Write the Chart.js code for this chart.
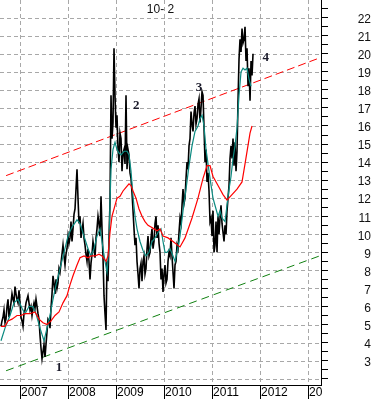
<!DOCTYPE html>
<html lang="en">
<head>
<meta charset="UTF-8">
<title>10- 2</title>
<script src="https://cdn.jsdelivr.net/npm/chart.js"></script>
<style>
  body { margin: 0; background: #fff; }
  .graph { width: 371px; height: 399px; position: relative; }
</style>
</head>
<body>
<div class="graph">
  <canvas id="myChart"></canvas>
</div>
<script>
  // sample grid: one value per step, time in decimal years
  var START = 2006.583;
  var STEP = 1 / 48;

  // 10y - 2y spread (black)
  var spread = [
    4.9, 5.2, 5.4, 5.8, 5.1, 5.3, 6.0, 6.4, 5.4, 5.8,
    6.2, 6.7, 6.4, 6.2, 7.1, 6.7, 6.4, 6.2, 6.9, 6.2,
    5.4, 5.2, 4.9, 5.6, 5.8, 6.2, 6.4, 6.6, 6.2, 5.8,
    6.0, 5.5, 5.9, 6.2, 5.9, 6.4, 6.0, 5.6, 5.3, 4.4,
    3.7, 3.1, 3.5, 3.9, 3.2, 3.9, 4.6, 5.3, 5.2, 4.8,
    5.9, 6.7, 7.7, 7.3, 6.7, 7.5, 7.0, 7.3, 8.1, 7.9,
    8.4, 8.9, 9.4, 8.8, 8.3, 8.9, 9.2, 9.9, 9.5, 9.8,
    10.7, 9.6, 10.3, 11.1, 11.4, 12.5, 13.6, 12.0, 10.6, 11.0,
    9.8, 10.2, 10.6, 9.8, 9.4, 8.9, 8.5, 9.2, 8.5, 7.5,
    8.4, 8.9, 9.6, 9.2, 8.7, 9.8, 10.3, 11.0, 10.6, 9.9,
    12.1, 10.3, 8.7, 6.6, 5.6, 4.7, 8.5, 7.4, 9.8, 11.8,
    17.7, 15.3, 16.2, 20.3, 17.7, 15.9, 16.6, 14.7, 14.0, 15.6,
    15.3, 13.5, 14.5, 14.7, 13.9, 17.7, 13.6, 14.7, 14.4, 13.4,
    13.1, 12.3, 11.3, 10.3, 9.4, 9.8, 8.5, 7.8, 7.0, 8.1,
    8.4, 7.4, 8.5, 8.8, 7.8, 8.1, 9.2, 9.9, 8.8, 9.0,
    9.8, 10.3, 9.2, 9.6, 10.6, 11.0, 9.8, 10.5, 9.5, 9.0,
    7.5, 8.1, 6.8, 7.8, 8.3, 7.3, 7.5, 8.5, 9.0, 8.8,
    9.8, 8.8, 7.9, 7.0, 8.3, 8.5, 9.4, 9.2, 10.1, 10.9,
    10.6, 11.6, 12.5, 11.7, 12.0, 13.1, 14.0, 13.6, 14.9, 15.3,
    16.8, 16.1, 15.7, 16.7, 17.1, 16.1, 16.4, 17.2, 17.5, 16.2,
    17.0, 17.9, 17.7, 15.9, 14.0, 14.7, 12.9, 13.4, 12.4, 10.7,
    10.9, 9.9, 11.3, 9.0, 9.4, 10.7, 9.0, 11.0, 10.0, 10.9,
    11.6, 10.6, 10.1, 9.6, 10.5, 10.0, 11.3, 12.0, 12.7, 14.2,
    14.9, 14.2, 15.3, 13.8, 15.1, 13.5, 14.6, 17.4, 19.7, 20.8,
    20.1, 21.4, 20.6, 20.8, 21.5, 19.6, 20.3, 18.2, 19.2, 17.4,
    19.6, 18.8, 20.0
  ];

  // short moving average (teal): step index + value
  var fastIdx = [1, 5, 10, 14, 18, 22, 25, 29, 33, 36, 40, 44, 47, 50, 53, 56, 60, 64, 68, 72,
    77, 80, 84, 88, 91, 94, 97, 100, 102, 105, 107, 109, 110, 111, 113, 115, 117, 119, 121, 124,
    127, 129, 131, 133, 135, 137, 140, 143, 146, 149, 152, 155, 158, 161, 163, 165, 167, 170, 173, 175,
    177, 180, 183, 186, 189, 192, 195, 198, 200, 202, 204, 206, 208, 210, 213, 216, 218, 220, 222, 225,
    227, 229, 231, 233, 235, 237, 239, 241, 243, 245, 247, 249, 251];
  var fastVals = [4.1, 4.8, 5.5, 6.2, 6.4, 5.9, 5.6, 6.0, 6.0, 5.6, 4.8, 4.1, 4.8, 5.5, 6.4, 7.2, 8.1, 9.0, 9.9, 10.4,
    10.8, 10.6, 9.9, 9.2, 8.8, 9.2, 9.9, 10.3, 9.6, 8.5, 7.9, 9.4, 11.8, 13.6, 14.7, 15.1, 14.7, 14.5, 14.4, 14.6,
    14.6, 14.4, 13.5, 12.1, 11.0, 10.3, 9.6, 9.1, 8.8, 9.0, 9.6, 9.8, 10.1, 10.3, 9.6, 9.0, 9.0, 9.2, 8.8, 8.5,
    9.0, 9.9, 11.3, 12.5, 13.8, 14.9, 15.7, 16.0, 16.4, 16.6, 16.0, 14.7, 13.9, 13.1, 12.0, 11.4, 11.0, 11.3, 10.9, 10.7,
    11.6, 12.5, 13.2, 14.2, 14.9, 15.9, 17.7, 19.0, 19.2, 19.1, 19.2, 18.6, 18.2];

  // long moving average (red)
  var slowIdx = [1, 5, 8, 12, 17, 21, 25, 30, 35, 39, 43, 47, 51, 55, 59, 63, 67, 70, 73, 77,
    80, 84, 88, 91, 95, 99, 102, 106, 108, 110, 112, 115, 117, 120, 123, 126, 129, 131, 133, 136,
    139, 142, 145, 148, 151, 154, 157, 160, 163, 168, 173, 180, 185, 192, 198, 203, 207, 210, 213, 218,
    223, 227, 232, 237, 242, 245, 250, 252];
  var slowVals = [4.9, 4.9, 5.2, 5.3, 5.5, 5.5, 5.6, 5.6, 5.7, 5.3, 5.1, 5.0, 5.2, 5.5, 5.7, 6.2, 6.6, 7.2, 7.7, 8.3,
    8.7, 8.8, 8.7, 8.8, 8.8, 8.9, 8.8, 8.5, 8.8, 10.1, 11.0, 11.6, 12.0, 12.1, 12.4, 12.6, 12.8, 12.7, 12.4, 12.0,
    11.4, 11.0, 10.7, 10.5, 10.4, 10.3, 10.2, 10.3, 9.9, 9.8, 9.6, 9.3, 9.8, 10.9, 12.0, 13.1, 13.8, 13.8, 13.2, 12.7,
    12.2, 11.9, 12.2, 12.5, 12.9, 13.9, 15.6, 16.0];

  // trend channel (start / end)
  var upperYears = [2006.71, 2013.25];
  var upperVals = [13.25, 19.78];
  var lowerYears = [2006.71, 2013.25];
  var lowerVals = [2.44, 8.81];

  var noteText = ['1', '2', '3', '4'];
  var noteYears = [2007.81, 2009.42, 2010.73, 2012.12];
  var noteVals = [2.61, 17.13, 18.12, 19.78];

  var titulo = '10- 2';

  function pts(idx, vals) {
    var out = [];
    for (var i = 0; i < vals.length; i++) {
      out.push({ x: START + idx[i] * STEP, y: vals[i] });
    }
    return out;
  }
  function pairs(xs, ys) {
    return xs.map(function (x, i) { return { x: x, y: ys[i] }; });
  }

  var spreadPts = spread.map(function (v, i) { return { x: START + (i + 1) * STEP, y: v }; });

  // grade tracejada desenhada a partir dos ticks das escalas
  var gridPlugin = {
    id: 'dashGrid',
    beforeDatasetsDraw: function (chart) {
      var ctx = chart.ctx, a = chart.chartArea;
      var xs = chart.scales.x, ys = chart.scales.y;
      ctx.save();
      ctx.strokeStyle = '#a8a8a8';
      ctx.lineWidth = 1;
      ctx.setLineDash([4, 3]);
      ctx.beginPath();
      xs.ticks.forEach(function (t) {
        var px = Math.round(xs.getPixelForValue(t.value)) + 0.5;
        ctx.moveTo(px, a.top);
        ctx.lineTo(px, a.bottom);
      });
      ys.ticks.forEach(function (t) {
        if (!Number.isInteger(t.value)) return;
        var py = Math.round(ys.getPixelForValue(t.value)) + 0.5;
        ctx.moveTo(a.left, py);
        ctx.lineTo(a.right, py);
      });
      ctx.stroke();
      ctx.restore();
    }
  };

  // titulo + numeros por cima do grafico
  var notesPlugin = {
    id: 'notes',
    afterDraw: function (chart) {
      var ctx = chart.ctx;
      var xs = chart.scales.x, ys = chart.scales.y, a = chart.chartArea;
      ctx.save();
      // esconde o rotulo cortado do ultimo ano, como no original
      ctx.fillStyle = '#fff';
      ctx.fillRect(a.right + 1, xs.top + 1, chart.width - a.right, xs.bottom - xs.top);
      ctx.fillStyle = '#111';
      ctx.font = '12px "Liberation Sans", Arial, sans-serif';
      ctx.textAlign = 'center';
      ctx.textBaseline = 'middle';
      ctx.fillText(titulo, (a.left + a.right) / 2, a.top + 10);
      ctx.font = 'bold 13px "Liberation Serif", "Times New Roman", serif';
      ctx.fillStyle = '#1a1a2a';
      for (var i = 0; i < noteText.length; i++) {
        ctx.fillText(noteText[i], xs.getPixelForValue(noteYears[i]), ys.getPixelForValue(noteVals[i]));
      }
      ctx.restore();
    }
  };

  var config = {
    type: 'line',
    data: {
      datasets: [
        { data: pts(slowIdx, slowVals), borderColor: '#ff0000', borderWidth: 1.2, order: 0 },
        { data: pts(fastIdx, fastVals), borderColor: '#0b8a80', borderWidth: 1.2, order: 1 },
        { data: spreadPts, borderColor: '#000', borderWidth: 1.6, order: 2 },
        { data: pairs(upperYears, upperVals), borderColor: '#ff0000', borderWidth: 1, borderDash: [8, 4], order: 3 },
        { data: pairs(lowerYears, lowerVals), borderColor: '#108010', borderWidth: 1, borderDash: [8, 5], order: 4 }
      ]
    },
    options: {
      responsive: true,
      maintainAspectRatio: false,
      animation: false,
      layout: { padding: 0, autoPadding: false },
      elements: { point: { radius: 0 }, line: { tension: 0 } },
      plugins: { legend: { display: false }, tooltip: { enabled: false } },
      scales: {
        x: {
          type: 'linear',
          position: 'bottom',
          min: 2006.583,
          max: 2013.27,
          grid: {
            drawOnChartArea: false, tickLength: 14, tickColor: '#000', tickWidth: 1
          },
          border: { color: '#000', width: 1 },
          ticks: {
            stepSize: 1, includeBounds: false, align: 'start', padding: -14, labelOffset: 1,
            autoSkip: false, maxRotation: 0, color: '#000',
            font: { family: '"Liberation Sans", Arial, sans-serif', size: 12 },
            callback: function (v) { return String(v); }
          },
          afterFit: function (s) { s.height = 14; s.paddingLeft = 0; s.paddingRight = 0; }
        },
        y: {
          type: 'linear',
          position: 'right',
          min: 1.65,
          max: 22.98,
          grid: {
            drawOnChartArea: false, tickLength: 7, tickColor: '#000', tickWidth: 1
          },
          border: { color: '#000', width: 1 },
          ticks: {
            stepSize: 0.5, maxTicksLimit: 100, includeBounds: false, autoSkip: false,
            crossAlign: 'far', padding: 27, labelOffset: 2, color: '#111',
            font: { family: '"Liberation Sans", Arial, sans-serif', size: 12 },
            callback: function (v) { return (Number.isInteger(v) && v >= 3 && v <= 22) ? String(v) : ''; }
          },
          afterFit: function (s) { s.width = 50; s.paddingTop = 0; s.paddingBottom = 0; }
        }
      }
    },
    plugins: [gridPlugin, notesPlugin]
  };

  var myChart = new Chart(document.getElementById('myChart'), config);
</script>
</body>
</html>
